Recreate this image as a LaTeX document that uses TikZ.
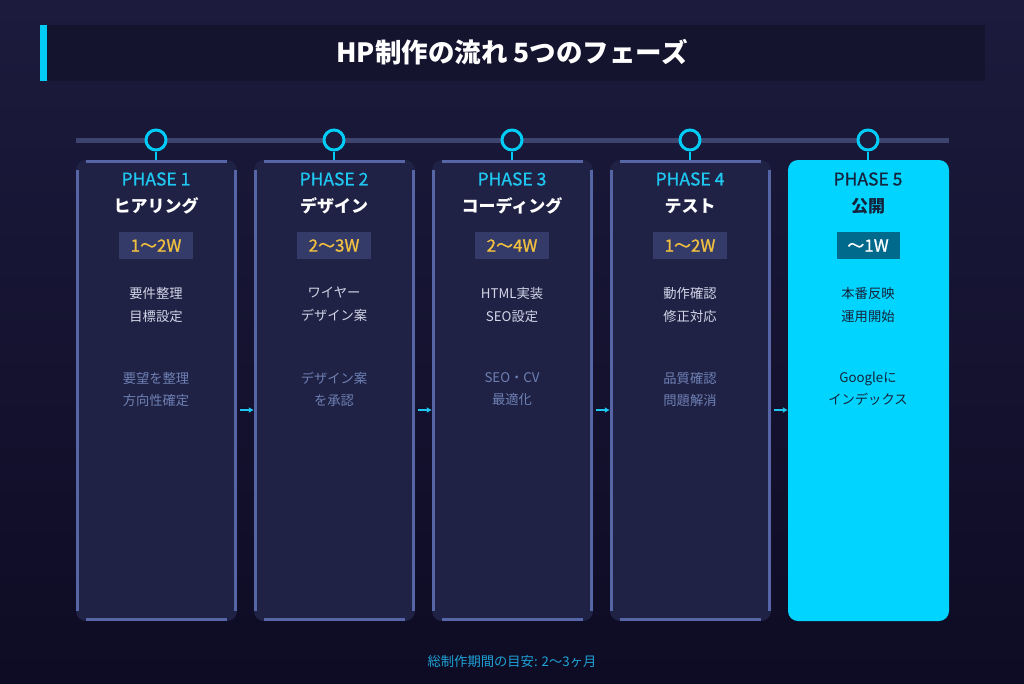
\documentclass[tikz,border=0pt]{standalone}
\usepackage{fontspec}
\setmainfont{Noto Sans CJK JP}
\newfontfamily\medfont[FakeBold=1.0]{Noto Sans CJK JP}
\usetikzlibrary{arrows.meta,calc}
\definecolor{bgtop}{HTML}{1C1B3D}
\definecolor{bgbot}{HTML}{0E0B24}
\definecolor{titlebg}{HTML}{15142F}
\definecolor{accent}{HTML}{00CCF5}
\definecolor{cardfill}{HTML}{1F2244}
\definecolor{cardedge}{HTML}{5565A5}
\definecolor{track}{HTML}{3D4470}
\definecolor{phasecol}{HTML}{1EC6F0}
\definecolor{badgebg}{HTML}{343B68}
\definecolor{gold}{HTML}{F2C040}
\definecolor{desccol}{HTML}{D2D6E8}
\definecolor{mutedcol}{HTML}{6E80B4}
\definecolor{hifill}{HTML}{00D4FF}
\definecolor{hitext}{HTML}{15243C}
\definecolor{hibadge}{HTML}{006A8C}
\definecolor{footcol}{HTML}{1FA2D6}
\tikzset{
  card/.style={draw=none,fill=cardfill,rounded corners=10pt,minimum width=161pt,minimum height=461pt,inner sep=0pt},
  hicard/.style={card,fill=hifill},
  edgeline/.style={draw=cardedge,line width=3pt},
  phaselbl/.style={text=phasecol,font=\medfont\fontsize{17.5}{19}\selectfont,inner sep=0pt},
  namelbl/.style={text=white,font=\bfseries\fontsize{17}{19}\selectfont,inner sep=0pt},
  badge/.style={fill=badgebg,text=gold,font=\medfont\fontsize{17}{19}\selectfont,minimum width=74pt,minimum height=27pt,inner sep=0pt},
  desc/.style={text=desccol,font=\fontsize{13.3}{23}\selectfont,align=center,inner sep=0pt},
  muted/.style={text=mutedcol,font=\fontsize{13.3}{22}\selectfont,align=center,inner sep=0pt},
  dot/.style={circle,draw=accent,line width=3pt,fill=bgtop,minimum size=20pt,inner sep=0pt},
  stem/.style={draw=accent,line width=2pt},
  arr/.style={draw=phasecol,line width=2pt,-{Latex[length=5pt,width=6pt]}},
}
\begin{document}
\begin{tikzpicture}[x=1pt,y=-1pt]
\useasboundingbox (0,0) rectangle (1024,683);
\shade[top color=bgtop,bottom color=bgbot] (0,0) rectangle (1024,683);
% title
\fill[titlebg] (40,25) rectangle (985,81);
\fill[accent] (40,25) rectangle (47,81);
\node[text=white,font=\bfseries\fontsize{26.5}{29}\selectfont,inner sep=0pt] (title) at (512,52) {HP制作の流れ 5つのフェーズ};
% timeline
\draw[track,line width=5pt] (76,140) -- (949,140);
\foreach \i/\x in {1/156.5,2/334.5,3/512.5,4/690.5} {
  \node[card] (c\i) at (\x,390.5) {};
  \draw[edgeline] ([xshift=10pt]c\i.north west) ++(0,1.5) -- ++(141,0);
  \draw[edgeline] ([xshift=10pt]c\i.south west) ++(0,-1.5) -- ++(141,0);
  \draw[edgeline] ([yshift=-10pt]c\i.north west) ++(1.5,0) -- ++(0,441);
  \draw[edgeline] ([yshift=-10pt]c\i.north east) ++(-1.5,0) -- ++(0,441);
}
\node[hicard] (c5) at (868.5,390.5) {};
\foreach \i/\x in {1/156,2/334,3/512,4/690,5/868} {
  \node[dot] (d\i) at (\x,140) {};
  \draw[stem] (d\i.south) -- (d\i.south |- c\i.north);
}
% texts
\node[phaselbl] (p1) at (156,179) {PHASE 1};
\node[namelbl] (n1) at (156,206) {ヒアリング};
\node[badge] (b1) at (156,245.5) {1〜2W};
\node[desc] (t1) at (156,304.5) {要件整理\\目標設定};
\node[muted] (m1) at (156,389) {要望を整理\\方向性確定};

\node[phaselbl] (p2) at (334,179) {PHASE 2};
\node[namelbl] (n2) at (334,206) {デザイン};
\node[badge] (b2) at (334,245.5) {2〜3W};
\node[desc] (t2) at (334,304.5) {ワイヤー\\デザイン案};
\node[muted] (m2) at (334,389) {デザイン案\\を承認};

\node[phaselbl] (p3) at (512,179) {PHASE 3};
\node[namelbl] (n3) at (512,206) {コーディング};
\node[badge] (b3) at (512,245.5) {2〜4W};
\node[desc] (t3) at (512,304.5) {HTML実装\\SEO設定};
\node[muted] (m3) at (512,389) {SEO・CV\\最適化};

\node[phaselbl] (p4) at (690,179) {PHASE 4};
\node[namelbl] (n4) at (690,206) {テスト};
\node[badge] (b4) at (690,245.5) {1〜2W};
\node[desc] (t4) at (690,304.5) {動作確認\\修正対応};
\node[muted] (m4) at (690,389) {品質確認\\問題解消};

\node[phaselbl,text=hitext] (p5) at (868,179) {PHASE 5};
\node[namelbl,text=hitext] (n5) at (868,206) {公開};
\node[badge,fill=hibadge,text=white,minimum width=63pt] (b5) at (868,245.5) {〜1W};
\node[desc,text=hitext] (t5) at (868,304.5) {本番反映\\運用開始};
\node[muted,text=hitext] (m5) at (868,389) {Googleに\\インデックス};
% arrows
\foreach \a/\b in {1/2,2/3,3/4,4/5} {
  \draw[arr] ([xshift=3pt,yshift=-19.5pt]c\a.east) -- ([yshift=-19.5pt]c\b.west);
}
% footer
\node[text=footcol,font=\fontsize{13.3}{15}\selectfont,inner sep=0pt] (foot) at (512,661) {総制作期間の目安: 2〜3ヶ月};
\end{tikzpicture}
\end{document}
